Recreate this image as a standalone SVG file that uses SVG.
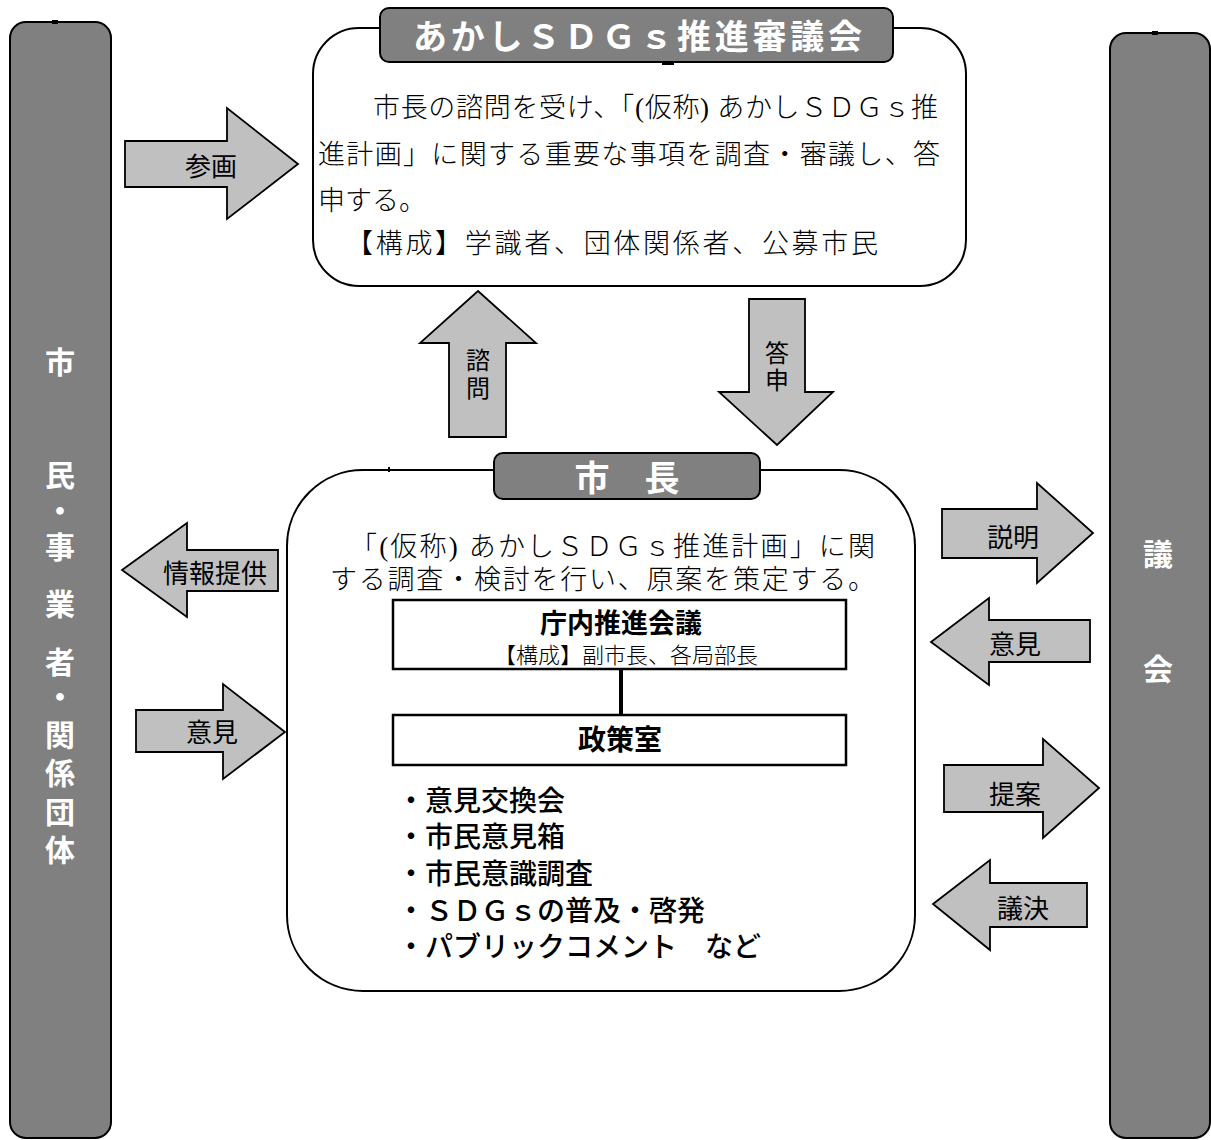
<svg xmlns="http://www.w3.org/2000/svg" width="1211" height="1140" viewBox="0 0 1211 1140">
<style>
.col{fill:#808080;stroke:#000;stroke-width:2}
.tab{fill:#808080;stroke:#000;stroke-width:2}
.box{fill:#fff;stroke:#000;stroke-width:2}
.sub{fill:#fff;stroke:#000;stroke-width:2.5}
.arr{fill:#c0c0c0;stroke:#000;stroke-width:1.8;stroke-linejoin:miter}
.wt{fill:#fff;font-family:"Noto Sans CJK JP","Liberation Sans",sans-serif;font-weight:700}
.ct{fill:#fff;font-family:"Noto Sans CJK JP","Liberation Sans",sans-serif;font-weight:700;font-size:30px;text-anchor:middle;dominant-baseline:central}
.mt{fill:#000;font-family:"Liberation Serif","Noto Sans CJK JP",serif;font-weight:300;font-size:27px}
.st{fill:#000;font-family:"Liberation Serif","Noto Sans CJK JP",serif;font-weight:300;font-size:22px;text-anchor:middle}
.lb{fill:#000;font-family:"Noto Sans CJK JP","Liberation Sans",sans-serif;font-size:26px;text-anchor:middle;dominant-baseline:central}
.vl{fill:#000;font-family:"Noto Sans CJK JP","Liberation Sans",sans-serif;font-size:24px;text-anchor:middle;dominant-baseline:central}
.gt{fill:#000;font-family:"Noto Sans CJK JP","Liberation Sans",sans-serif}
.li{fill:#000;font-family:"Noto Sans CJK JP","Liberation Sans",sans-serif;font-size:28px;font-weight:500}
.bt{fill:#000;font-family:"Noto Sans CJK JP","Liberation Sans",sans-serif;font-weight:700;text-anchor:middle}
.mark{fill:#000}
</style>

<g id="node-citizens">
  <rect class="col" x="10" y="22" width="101" height="1116" rx="16"/>
  <rect class="mark" x="52" y="20" width="6" height="4"/>
  <text class="ct"><tspan x="60" y="360">市</tspan><tspan x="60" y="473">民</tspan><tspan x="60" y="509">・</tspan><tspan x="60" y="545">事</tspan><tspan x="60" y="602">業</tspan><tspan x="60" y="660">者</tspan><tspan x="60" y="695">・</tspan><tspan x="60" y="733">関</tspan><tspan x="60" y="771">係</tspan><tspan x="60" y="810">団</tspan><tspan x="60" y="848">体</tspan></text>
</g>

<g id="node-council">
  <rect class="col" x="1110" y="33" width="100" height="1105" rx="16"/>
  <rect class="mark" x="1152" y="31" width="6" height="4"/>
  <text class="ct"><tspan x="1158" y="552">議</tspan><tspan x="1158" y="667">会</tspan></text>
</g>

<g id="node-shingikai">
  <rect class="box" x="313" y="28" width="653" height="258" rx="46"/>
  <rect class="tab" x="380" y="8" width="513" height="54" rx="9"/>
  <rect class="mark" x="662" y="62" width="12" height="3"/>
  <text class="wt" x="413" y="49" font-size="34" textLength="449" lengthAdjust="spacing">あかしＳＤＧｓ推進審議会</text>
  <text class="mt" x="373" y="117" textLength="565" lengthAdjust="spacing">市長の諮問を受け、「(仮称) あかしＳＤＧｓ推</text>
  <text class="mt" x="318" y="164" textLength="622" lengthAdjust="spacing">進計画」に関する重要な事項を調査・審議し、答</text>
  <text class="mt" x="318" y="210">申する。</text>
  <text class="mt" x="346" y="253" textLength="532" lengthAdjust="spacing">【構成】学識者、団体関係者、公募市民</text>
</g>

<g id="node-mayor">
  <rect class="box" x="287" y="470" width="628" height="521" rx="76"/>
  <rect class="mark" x="388" y="467" width="2" height="5"/>
  <rect class="tab" x="494" y="453" width="266" height="46" rx="9"/>
  <text class="wt" x="627" y="491" font-size="35" text-anchor="middle">市　長</text>
  <text class="mt" x="350" y="556" textLength="525" lengthAdjust="spacing">「(仮称) あかしＳＤＧｓ推進計画」に関</text>
  <text class="mt" x="330" y="589" textLength="545" lengthAdjust="spacing">する調査・検討を行い、原案を策定する。</text>
  <text class="li" x="397" y="811">・意見交換会</text>
  <text class="li" x="397" y="847">・市民意見箱</text>
  <text class="li" x="397" y="884">・市民意識調査</text>
  <text class="li" x="397" y="921">・ＳＤＧｓの普及・啓発</text>
  <text class="li" x="397" y="957">・パブリックコメント　など</text>
</g>

<g id="node-chonai">
  <rect class="sub" x="393" y="600" width="453" height="69"/>
  <text class="bt" x="621" y="633" font-size="27">庁内推進会議</text>
  <text class="st" x="626" y="663">【構成】副市長、各局部長</text>
</g>

<g id="node-seisakushitsu">
  <rect class="sub" x="393" y="715" width="453" height="50"/>
  <text class="bt" x="620" y="750" font-size="28">政策室</text>
</g>

<g id="connectors">
  <line x1="621" y1="669" x2="621" y2="715" stroke="#000" stroke-width="4"/>
  <g id="arrow-sankaku">
    <polygon class="arr" points="125,141 227,141 227,108 298,164 227,219 227,187 125,187"/>
    <text class="lb" x="211" y="164">参画</text>
  </g>
  <g id="arrow-joho">
    <polygon class="arr" points="122,570 187,523 187,550 278,550 278,591 187,591 187,617"/>
    <text class="lb" x="215" y="571">情報提供</text>
  </g>
  <g id="arrow-iken-left">
    <polygon class="arr" points="136,710 223,710 223,684 285,732 223,779 223,752 136,752"/>
    <text class="lb" x="212" y="730">意見</text>
  </g>
  <g id="arrow-shimon">
    <polygon class="arr" points="478,291 536,343 506,343 506,437 449,437 449,343 420,343"/>
    <text class="vl"><tspan x="478" y="358">諮</tspan><tspan x="478" y="386">問</tspan></text>
  </g>
  <g id="arrow-toshin">
    <polygon class="arr" points="749,299 805,299 805,392 833,392 777,445 719,392 749,392"/>
    <text class="vl"><tspan x="777" y="351">答</tspan><tspan x="777" y="378">申</tspan></text>
  </g>
  <g id="arrow-setsumei">
    <polygon class="arr" points="942,509 1037,509 1037,483 1093,533 1037,583 1037,558 942,558"/>
    <text class="lb" x="1013" y="535">説明</text>
  </g>
  <g id="arrow-iken-right">
    <polygon class="arr" points="931,642 989,598 989,620 1090,620 1090,662 989,662 989,685"/>
    <text class="lb" x="1015" y="642">意見</text>
  </g>
  <g id="arrow-teian">
    <polygon class="arr" points="944,765 1043,765 1043,739 1099,788 1043,838 1043,812 944,812"/>
    <text class="lb" x="1015" y="792">提案</text>
  </g>
  <g id="arrow-giketsu">
    <polygon class="arr" points="933,904 990,860 990,883 1087,883 1087,927 990,927 990,950"/>
    <text class="lb" x="1023" y="906">議決</text>
  </g>
</g>
</svg>
